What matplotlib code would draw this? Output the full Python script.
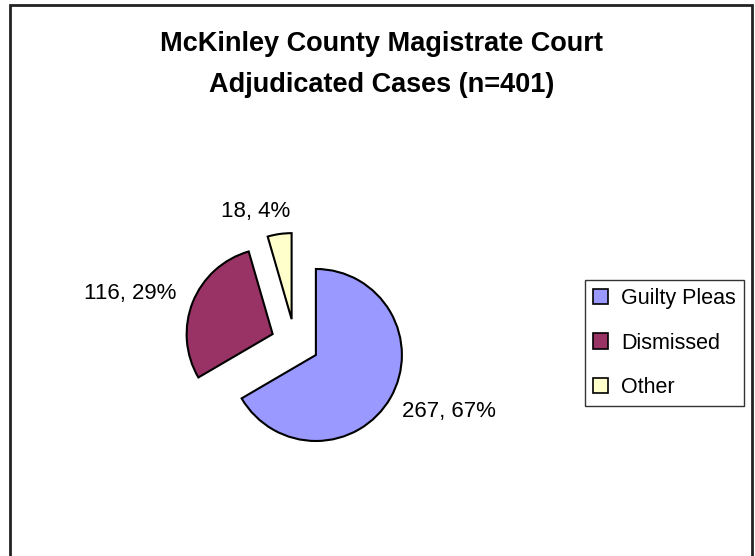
import matplotlib.pyplot as plt
from matplotlib.patches import Rectangle

plt.rcParams['font.family'] = ['Liberation Sans', 'DejaVu Sans']

# data
categories = ["Guilty Pleas", "Dismissed", "Other"]
counts = [267, 116, 18]
colors = ["#9999FF", "#993366", "#FFFFCC"]
title = "McKinley County Magistrate Court\nAdjudicated Cases (n=401)"

total = sum(counts)
labels = [f"{c}, {round(100 * c / total)}%" for c in counts]

W, H = 755, 556
fig = plt.figure(figsize=(W / 100, H / 100), dpi=100)
ax = fig.add_axes([0, 0, 1, 1])
ax.set_xlim(0, W)
ax.set_ylim(0, H)
ax.set_aspect("equal")
ax.axis("off")

# pie centre / radius in pixel-like data units; explode is absolute here
cx, cy, r = 295, H - 343, 86
wedges, _ = ax.pie(counts, colors=colors, startangle=90, counterclock=False,
                   explode=[0.28 * r] * 3, center=(cx, cy), radius=r,
                   wedgeprops=dict(edgecolor="black", linewidth=1.5))
ax.set_xlim(0, W)
ax.set_ylim(0, H)

# data labels (positions tuned to match Excel layout)
label_pos = [(449, H - 412), (130, H - 293), (256, H - 211)]
for txt, (lx, ly) in zip(labels, label_pos):
    ax.text(lx, ly, txt, ha="center", va="center", fontsize=16)

fig.text(0.505, 1 - 31 / H, title, ha="center", va="top", fontsize=19.5,
         fontweight="bold", linespacing=1.75)

leg = fig.legend(wedges, categories, loc="center left",
                 bbox_to_anchor=(585 / W, 1 - 343 / H), fontsize=15.5,
                 frameon=True, fancybox=False, edgecolor="black",
                 handlelength=0.7, handleheight=0.7, handletextpad=0.6,
                 labelspacing=1.08, borderpad=0.38, borderaxespad=0)
leg.get_frame().set_linewidth(1.0)
for h in leg.legend_handles:
    h.set_linewidth(1.2)

# chart area border
fig.patches.append(Rectangle((9.5 / W, -0.02), (752 - 9.5) / W, 1 - 5 / H + 0.02,
                             transform=fig.transFigure, fill=False,
                             edgecolor="#222222", linewidth=2))

fig.savefig("out.png", dpi=100)
